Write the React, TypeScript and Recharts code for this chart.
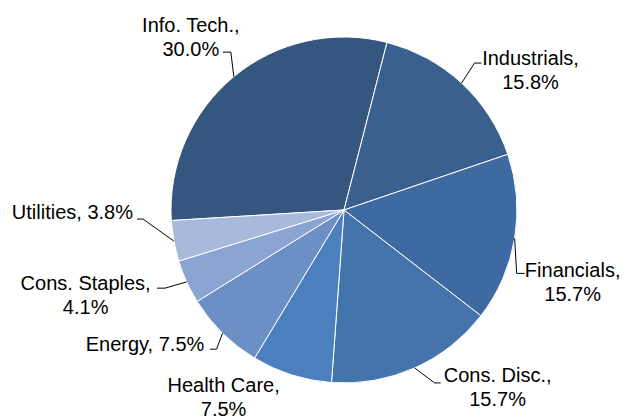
import { PieChart, Pie, Cell } from "recharts";

const sectors = [
  "Info. Tech.",
  "Industrials",
  "Financials",
  "Cons. Disc.",
  "Health Care",
  "Energy",
  "Cons. Staples",
  "Utilities",
];
const weights = [30.0, 15.8, 15.7, 15.7, 7.5, 7.5, 4.1, 3.8];

const COLORS = ["#35577f", "#3a6090", "#3f69a1", "#4573ab", "#4b7fbd", "#6c8fc6", "#8ba4d2", "#a8badc"];

// label placement relative to the point on the slice edge at its mid angle
// tx/ty: text centre and first baseline, leader: elbow then end near text
const labelLayout = [
  { tx: -43, ty: -45, oneLine: false, leader: [[-3, -24.5], [-11, -24.5]] },
  { tx: 69, ty: -18, oneLine: false, leader: [[13, -20], [20, -20]] },
  { tx: 58, ty: 39, oneLine: false, leader: [[2, 35], [10, 35]] },
  { tx: 83, ty: 14, oneLine: false, leader: [[20, 15], [26, 15]] },
  { tx: -68, ty: 17, oneLine: false, leader: null },
  { tx: -77.5, ty: 18, oneLine: true, leader: [[-6, 16], [-12.5, 16]] },
  { tx: -101, ty: 8, oneLine: false, leader: [[-21.6, 6.3], [-29.6, 6.3]] },
  { tx: -101.4, ty: -22, oneLine: true, leader: [[-30.8, -22], [-36.8, -22]] },
];

const data = sectors.map((name, i) => ({ name, value: weights[i] }));

const RAD = Math.PI / 180;

const renderLabel = (props: any) => {
  const { cx, cy, midAngle, outerRadius, index } = props;
  const ex = cx + outerRadius * Math.cos(-midAngle * RAD);
  const ey = cy + outerRadius * Math.sin(-midAngle * RAD);
  const lay = labelLayout[index];
  const name = sectors[index];
  const pct = `${weights[index].toFixed(1)}%`;
  const tx = ex + lay.tx;
  const ty = ey + lay.ty;
  return (
    <g key={`lbl-${index}`}>
      {lay.leader && (
        <polyline
          points={[[0, 0], ...lay.leader].map(([dx, dy]) => `${ex + dx},${ey + dy}`).join(" ")}
          fill="none"
          stroke="#000"
          strokeWidth={1}
        />
      )}
      <text
        x={tx}
        y={ty}
        textAnchor="middle"
        fill="#000"
        fontSize={20}
        fontFamily="'Liberation Sans', Arial, sans-serif"
      >
        {lay.oneLine ? (
          `${name}, ${pct}`
        ) : (
          <>
            <tspan x={tx} y={ty}>{`${name},`}</tspan>
            <tspan x={tx} y={ty + 24}>{pct}</tspan>
          </>
        )}
      </text>
    </g>
  );
};

export default function App() {
  return (
    <div style={{ position: "absolute", left: 0, top: 0, background: "#fff" }}>
      <PieChart width={625} height={417} margin={{ top: 0, right: 0, bottom: 0, left: 0 }}>
        <Pie
          data={data}
          dataKey="value"
          nameKey="name"
          cx={344}
          cy={210}
          outerRadius={173}
          startAngle={183.5}
          endAngle={-176.5}
          stroke="#fff"
          strokeWidth={1}
          labelLine={false}
          label={renderLabel}
          isAnimationActive={false}
        >
          {data.map((entry, index) => (
            <Cell key={`cell-${index}`} fill={COLORS[index % COLORS.length]} />
          ))}
        </Pie>
      </PieChart>
    </div>
  );
}
